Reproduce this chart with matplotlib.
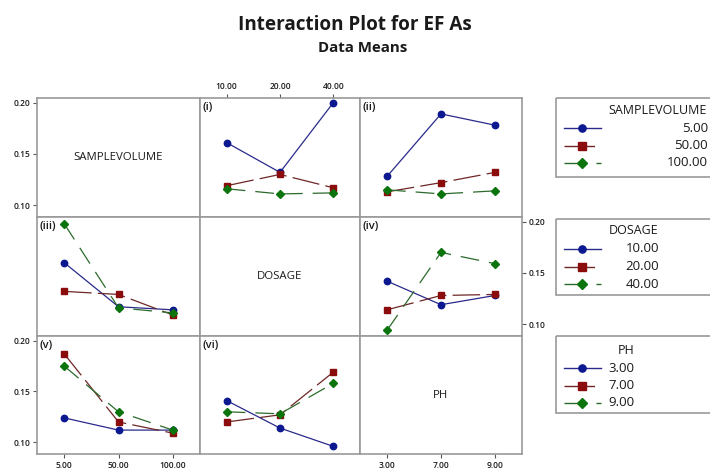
import matplotlib
matplotlib.use('Agg')
import matplotlib.pyplot as plt
from matplotlib.lines import Line2D
from matplotlib.patches import Rectangle

plt.rcParams['font.family'] = ['Open Sans', 'DejaVu Sans']

# factor levels
sv_levels = ['5.00', '50.00', '100.00']
dosage_levels = ['10.00', '20.00', '40.00']
ph_levels = ['3.00', '7.00', '9.00']

# EF As means, one row per trace level
sv_by_dosage = [[0.161, 0.132, 0.200], [0.119, 0.130, 0.117], [0.116, 0.111, 0.112]]   # (i)
sv_by_ph = [[0.128, 0.189, 0.178], [0.113, 0.122, 0.132], [0.115, 0.111, 0.114]]       # (ii)
dosage_by_sv = [[0.160, 0.117, 0.114], [0.132, 0.129, 0.109], [0.198, 0.116, 0.111]]   # (iii)
dosage_by_ph = [[0.142, 0.119, 0.128], [0.114, 0.128, 0.129], [0.094, 0.170, 0.159]]   # (iv)
ph_by_sv = [[0.124, 0.112, 0.112], [0.187, 0.120, 0.109], [0.175, 0.130, 0.112]]       # (v)
ph_by_dosage = [[0.141, 0.114, 0.096], [0.120, 0.127, 0.169], [0.130, 0.128, 0.158]]   # (vi)

yticks = [0.10, 0.15, 0.20]

line_cols = ['#2a2a8c', '#6e2626', '#2c6a2c']
mark_cols = ['#0c1890', '#8a0c0c', '#0c740c']
markers = ['o', 's', 'D']
msizes = [4.6, 4.6, 4.0]
styles = ['-', (0, (22, 5)), (0, (15, 8))]

W, H = 710, 471
xs = [37, 200, 360, 522]
ys = [98, 217, 336, 454]
grid_col = '#9a9a9a'
txt_col = '#1a1a1a'

fig = plt.figure(figsize=(W / 100, H / 100), dpi=100)


def cell(r, c):
    ax = fig.add_axes([xs[c] / W, 1 - ys[r + 1] / H,
                       (xs[c + 1] - xs[c]) / W, (ys[r + 1] - ys[r]) / H])
    ax.set_xlim(0.5, 3.5)
    ax.set_ylim(0.0885, 0.2045)
    ax.set_xticks([])
    ax.set_yticks([])
    for s in ax.spines.values():
        s.set_color(grid_col)
        s.set_linewidth(1.2)
    ax.tick_params(length=3, width=0.8, color='#555555', labelsize=6,
                   labelcolor=txt_col, pad=2)
    return ax


def traces(ax, data, tag):
    pos = [1, 2, 3]
    for k, vals in enumerate(data):
        ax.plot(pos, vals, color=line_cols[k], linestyle=styles[k], linewidth=0.9,
                marker=markers[k], markersize=msizes[k], markerfacecolor=mark_cols[k],
                markeredgecolor=mark_cols[k], zorder=3 + k)
    ax.text(0.015, 0.965, tag, transform=ax.transAxes, ha='left', va='top',
            fontsize=8, fontweight='semibold', color=txt_col)


def name(ax, label):
    ax.text(0.5, 0.5, label, transform=ax.transAxes, ha='center', va='center',
            fontsize=8.2, color=txt_col)


axs = [[cell(r, c) for c in range(3)] for r in range(3)]

name(axs[0][0], 'SAMPLEVOLUME')
name(axs[1][1], 'DOSAGE')
name(axs[2][2], 'PH')

traces(axs[0][1], sv_by_dosage, '(i)')
traces(axs[0][2], sv_by_ph, '(ii)')
traces(axs[1][0], dosage_by_sv, '(iii)')
traces(axs[1][2], dosage_by_ph, '(iv)')
traces(axs[2][0], ph_by_sv, '(v)')
traces(axs[2][1], ph_by_dosage, '(vi)')

# y scales: left on rows 1 and 3, right on row 2
for ax in (axs[0][0], axs[2][0]):
    ax.set_yticks(yticks)
    ax.set_yticklabels([f'{v:.2f}' for v in yticks], fontweight='semibold')
axs[1][2].yaxis.tick_right()
axs[1][2].set_yticks(yticks)
axs[1][2].set_yticklabels([f'{v:.2f}' for v in yticks], fontweight='semibold')

# x scales: dosage on top, sample volume and pH at the bottom
axs[0][1].xaxis.tick_top()
axs[0][1].set_xticks([1, 2, 3])
axs[0][1].set_xticklabels(dosage_levels, fontweight='semibold')
axs[2][0].set_xticks([1, 2, 3])
axs[2][0].set_xticklabels(sv_levels, fontweight='semibold')
axs[2][2].set_xticks([1, 2, 3])
axs[2][2].set_xticklabels(ph_levels, fontweight='semibold')

fig.text(355 / W, 1 - 25 / H, 'Interaction Plot for EF As', ha='center', va='center',
         fontsize=13.6, fontweight='bold', color=txt_col)
fig.text(363 / W, 1 - 48 / H, 'Data Means', ha='center', va='center',
         fontsize=10.8, fontweight='bold', color=txt_col)


# legend boxes, drawn in pixel units on a full-figure overlay
lg = fig.add_axes([0, 0, 1, 1], zorder=10)
lg.set_xlim(0, W)
lg.set_ylim(H, 0)
lg.axis('off')
lg.patch.set_alpha(0)

boxes = [
    ('SAMPLEVOLUME', sv_levels, 98, 177, 658, 128, 'right', 708),
    ('DOSAGE', dosage_levels, 219, 295, 634, 249, 'right', 659),
    ('PH', ph_levels, 336, 413, 626, 368, 'left', 608),
]
for title, labels, top, bot, tx, row0, ha, lx in boxes:
    lg.add_patch(Rectangle((556, top), 170, bot - top, fill=False,
                           edgecolor=grid_col, linewidth=1.2))
    lg.text(tx, row0 - 18, title, ha='center', va='center', fontsize=9, color=txt_col)
    for k, lab in enumerate(labels):
        y = row0 + k * 17.5
        lg.add_line(Line2D([564, 601], [y, y], color=line_cols[k], linestyle=styles[k],
                           linewidth=1.0))
        lg.add_line(Line2D([582], [y], marker=markers[k], markersize=msizes[k] + 0.6,
                           markerfacecolor=mark_cols[k], markeredgecolor=mark_cols[k]))
        lg.text(lx, y, lab, ha=ha, va='center', fontsize=9.5, color=txt_col)

fig.savefig('out.png', dpi=100)
